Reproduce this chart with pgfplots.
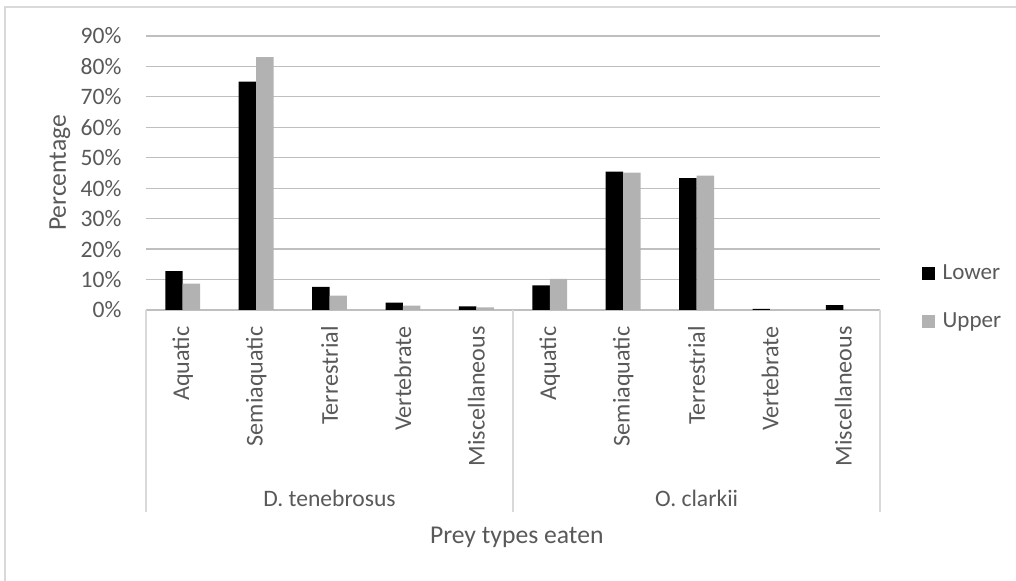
\documentclass[border=0pt]{standalone}
\usepackage{pgfplots}
\pgfplotsset{compat=1.18}
\usepackage{fontspec}
\setmainfont{Carlito}
\definecolor{txt}{HTML}{595959}
\definecolor{grid}{HTML}{D9D9D9}
\definecolor{upper}{HTML}{B2B2B2}
\pgfplotstableread{
x lower upper
0 12.8 8.7
1 75.0 83.0
2 7.6 4.7
3 2.4 1.4
4 1.2 0.9
5 8.1 10.2
6 45.4 45.1
7 43.3 44.1
8 0.4 0
9 1.6 0
}\datatable
\begin{document}
\begin{tikzpicture}
\useasboundingbox (-56.94pt,-105.69pt) rectangle (339.3pt,120.9pt);
\draw[grid, line width=0.5pt] (-55.0pt,-106pt) -- (-55.0pt,118.2pt) -- (340pt,118.2pt);
\begin{axis}[
  name=ax,
  at={(0,0)}, anchor=south west,
  scale only axis,
  width=286.3pt, height=106.9pt,
  xmin=-0.5, xmax=9.5,
  ymin=0, ymax=90,
  ybar=0pt, bar width=6.8pt,
  axis line style={draw=none},
  major tick length=0pt,
  ytick={0,10,...,90},
  yticklabels={0\%,10\%,20\%,30\%,40\%,50\%,60\%,70\%,80\%,90\%},
  yticklabel style={anchor=east, inner sep=0pt, xshift=-9.4pt, text=txt, font=\fontsize{9.2}{11}\selectfont},
  xtick={0,...,9},
  xticklabels={Aquatic,Semiaquatic,Terrestrial,Vertebrate,Miscellaneous,Aquatic,Semiaquatic,Terrestrial,Vertebrate,Miscellaneous},
  xticklabel style={rotate=90, anchor=east, inner sep=0pt, text=txt, font=\fontsize{9.4}{11}\selectfont},
  xticklabel shift=6.2pt,
  ymajorgrids, xmajorgrids=false,
  grid style={grid, line width=0.5pt},
  ylabel={Percentage},
  ylabel style={at={(axis description cs:-0.1172,0.5)}, anchor=center, text=txt, font=\fontsize{10}{12}\selectfont},
  xlabel={Prey types eaten},
  xlabel style={at={(axis description cs:0.505,0)}, anchor=center, yshift=-88.5pt, text=txt, font=\fontsize{10}{12}\selectfont},
  clip=false,
  legend style={at={(axis description cs:1.0559,0.1726)}, anchor=north west, draw=none, fill=none, inner sep=0pt,
    row sep=10.6pt, column sep=3.1pt,
    nodes={inner sep=0pt, text height=6.3pt, text depth=1.8pt, text=txt, font=\fontsize{9}{11}\selectfont}},
  legend cell align=left,
]
\addplot[fill=black, draw=none, legend image code/.code={\fill[black] (0pt,-2.53pt) rectangle (5.07pt,2.53pt);}] table[x=x, y=lower] {\datatable};
\addlegendentry{Lower}
\addplot[fill=upper, draw=none, legend image code/.code={\fill[upper] (0pt,-2.53pt) rectangle (5.07pt,2.53pt);}] table[x=x, y=upper] {\datatable};
\addlegendentry{Upper}
\draw[grid, line width=0.5pt] (axis cs:-0.5,0) -- ([yshift=-78.8pt]axis cs:-0.5,0);
\draw[grid, line width=0.5pt] (axis cs:4.5,0) -- ([yshift=-78.8pt]axis cs:4.5,0);
\draw[grid, line width=0.5pt] (axis cs:9.5,0) -- ([yshift=-78.8pt]axis cs:9.5,0);
\node[text=txt, font=\fontsize{9.2}{11}\selectfont, anchor=center] at ([yshift=-73.3pt]axis cs:2,0) {D. tenebrosus};
\node[text=txt, font=\fontsize{9.2}{11}\selectfont, anchor=center] at ([yshift=-73.3pt]axis cs:7,0) {O. clarkii};
\end{axis}
\end{tikzpicture}
\end{document}
